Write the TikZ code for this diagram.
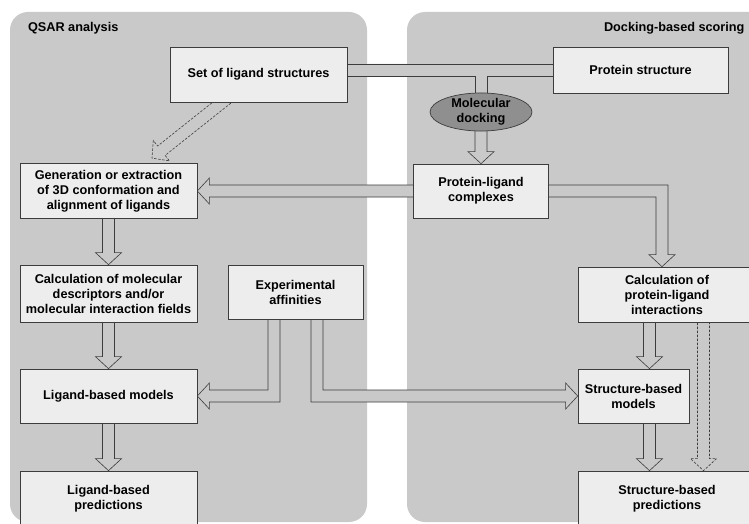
\documentclass[tikz,border=0pt]{standalone}
\usepackage{fontspec}
\setmainfont{Liberation Sans}
\usetikzlibrary{calc,backgrounds,shapes.geometric}
\definecolor{panelgray}{HTML}{C9C9C9}
\definecolor{boxgray}{HTML}{EDEDED}
\definecolor{dockgray}{HTML}{8F8F8F}
\definecolor{linegray}{HTML}{3C3C3C}
\tikzset{
  txt/.style={font=\fontsize{12.7}{15}\selectfont\bfseries},
  stepbox/.style={txt, draw=linegray, line width=0.7pt, fill=boxgray, align=center, inner sep=1pt},
  panel/.style={fill=panelgray, rounded corners=18pt},
  blk/.style={draw=linegray, fill=panelgray, line width=0.6pt},
  dashblk/.style={blk, dash pattern=on 2.5pt off 1.5pt}
}
\newcommand\downblk[3][]{\draw[blk,#1] let \p1=(#2), \p2=(#3) in
  (\x2-6pt,\y1) -- (\x2-6pt,\y2+12pt) -- (\x2-13pt,\y2+12pt) -- (\x2,\y2) -- (\x2+13pt,\y2+12pt) -- (\x2+6pt,\y2+12pt) -- (\x2+6pt,\y1) -- cycle;}
\newcommand\leftblk[3][]{\draw[blk,#1] let \p1=(#2), \p2=(#3) in
  (\x1,\y2+6pt) -- (\x2+12pt,\y2+6pt) -- (\x2+12pt,\y2+13pt) -- (\x2,\y2) -- (\x2+12pt,\y2-13pt) -- (\x2+12pt,\y2-6pt) -- (\x1,\y2-6pt) -- cycle;}
\begin{document}
\begin{tikzpicture}[x=1pt,y=1pt]
  \useasboundingbox (0,0) rectangle (749,523);
  \node[txt, anchor=base west] (qsar) at (24.5,491.3) {QSAR analysis};
  \node[txt, anchor=base east] (dbs) at (748,491.3) {Docking-based scoring};
  \node[stepbox, minimum width=177pt, minimum height=55pt] (lig) at (258.5,448.5) {Set of ligand structures};
  \node[stepbox, minimum width=175pt, minimum height=46pt] (prot) at (640.5,453) {Protein structure};
  \node[txt, ellipse, draw=linegray, line width=0.7pt, fill=dockgray, align=center, inner sep=0pt,
        minimum width=102pt, minimum height=38pt] (dock) at (481,411) {Molecular\\docking};
  \node[stepbox, minimum width=135pt, minimum height=54pt] (plc) at (481,332) {Protein-ligand\\complexes};
  \node[stepbox, minimum width=177pt, minimum height=55pt] (gen) at (108.5,332) {Generation or extraction\\of 3D conformation and\\alignment of ligands};
  \node[stepbox, minimum width=177pt, minimum height=57pt] (desc) at (108.5,229.5) {Calculation of molecular\\descriptors and/or\\molecular interaction fields};
  \node[stepbox, minimum width=135pt, minimum height=54pt] (exp) at (295.5,231) {Experimental\\affinities};
  \node[stepbox, minimum width=177pt, minimum height=54pt] (lbm) at (108.5,127) {Ligand-based models};
  \node[stepbox, minimum width=177pt, minimum height=56pt] (lbp) at (108.5,24) {Ligand-based\\predictions};
  \node[stepbox, minimum width=178pt, minimum height=55pt] (cpl) at (667,228.5) {Calculation of\\protein-ligand\\interactions};
  \node[stepbox, minimum width=111pt, minimum height=54pt] (sbm) at (633.5,127) {Structure-based\\models};
  \node[stepbox, minimum width=178pt, minimum height=56pt] (sbp) at (667,24) {Structure-based\\predictions};
  \coordinate (gentip) at ($(gen.north)+(43.5,5)$);
  \begin{scope}[on background layer]
    \fill[panel] (10,1) rectangle (367,511);
    \fill[panel] (407,1) rectangle (790,511);
    \draw[blk] let \p1=(lig.center), \p2=(prot.center), \p3=(dock.center) in
      (\x1,\y2+6pt) -- (\x2,\y2+6pt) -- (\x2,\y2-6pt) -- (\x3+6pt,\y2-6pt) -- (\x3+6pt,\y3)
      -- (\x3-6pt,\y3) -- (\x3-6pt,\y2-6pt) -- (\x1,\y2-6pt) -- cycle;
    \downblk{dock.center}{plc.north}
    \leftblk{plc.center}{gen.east}
    \draw[blk] let \p1=(plc.center), \p2=($(cpl.north)+(-5,0)$) in
      (\x1,\y1+6pt) -- (\x2+6pt,\y1+6pt) -- (\x2+6pt,\y2+12pt) -- (\x2+13pt,\y2+12pt) -- (\x2,\y2)
      -- (\x2-13pt,\y2+12pt) -- (\x2-6pt,\y2+12pt) -- (\x2-6pt,\y1-6pt) -- (\x1,\y1-6pt) -- cycle;
    \begin{scope}[shift={(gentip)}, rotate=218.5]
      \draw[dashblk] (-100,6) -- (-12,6) -- (-12,13) -- (0,0) -- (-12,-13) -- (-12,-6) -- (-100,-6) -- cycle;
    \end{scope}
    \downblk{gen.center}{desc.north}
    \downblk{desc.center}{lbm.north}
    \downblk{lbm.center}{lbp.north}
    \draw[blk] let \p1=($(exp.center)+(-21.5,0)$), \p2=(lbm.east) in
      (\x1-6pt,\y1) -- (\x1-6pt,\y2+6pt) -- (\x2+12pt,\y2+6pt) -- (\x2+12pt,\y2+13pt) -- (\x2,\y2)
      -- (\x2+12pt,\y2-13pt) -- (\x2+12pt,\y2-6pt) -- (\x1+6pt,\y2-6pt) -- (\x1+6pt,\y1) -- cycle;
    \draw[blk] let \p1=($(exp.center)+(21.5,0)$), \p2=(sbm.west) in
      (\x1-6pt,\y1) -- (\x1-6pt,\y2-6pt) -- (\x2-12pt,\y2-6pt) -- (\x2-12pt,\y2-13pt) -- (\x2,\y2)
      -- (\x2-12pt,\y2+13pt) -- (\x2-12pt,\y2+6pt) -- (\x1+6pt,\y2+6pt) -- (\x1+6pt,\y1) -- cycle;
    \downblk{cpl.center}{$(sbm.north)+(16,0)$}
    \downblk{sbm.center}{$(sbp.north)+(-17.5,0)$}
    \downblk[dash pattern=on 2.5pt off 1.5pt]{cpl.center}{$(sbp.north)+(36.5,0)$}
  \end{scope}
\end{tikzpicture}
\end{document}
